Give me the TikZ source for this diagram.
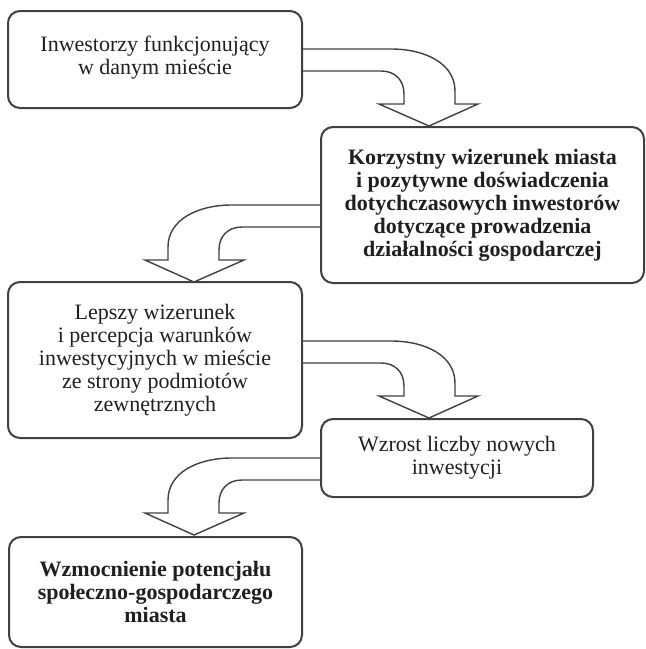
\documentclass[tikz,border=0pt]{standalone}
\usepackage{fontspec}
\setmainfont{Liberation Serif}
\usetikzlibrary{calc}
\def\bendarrow[#1](#2){\draw[blockarrow,shift={(#2)},#1] (0,0) -- (88,0) .. controls (123,0) and (152,15) .. (152,42) -- (152,55) -- (175,55) -- (126,77) -- (76,55) -- (101,55) -- (101,45) .. controls (101,31) and (92,22) .. (78,22) -- (0,22);}
\tikzset{
	box/.style={draw=black!75, line width=1pt, rounded corners=6pt, align=center, inner sep=0pt, font=\fontsize{11}{11.5}\selectfont, text=black!88},
	blockarrow/.style={draw=black!75, line width=0.7pt, line join=miter},
}
\begin{document}
\begin{tikzpicture}[x=0.5pt, y=-0.5pt]
			%%%%% START %%%%%
			\useasboundingbox (0,0) rectangle (646,649);
			
			\node[box, minimum width=147pt, minimum height=48.5pt] (inv) at (155,59.5) {Inwestorzy funkcjonujący\\w danym mieście\\[-7pt]\mbox{}};
			\node[box, minimum width=161.5pt, minimum height=78pt] (image) at (482.5,205) {\bfseries Korzystny wizerunek miasta\\\bfseries i pozytywne doświadczenia\\\bfseries dotychczasowych inwestorów\\\bfseries dotyczące prowadzenia\\\bfseries działalności gospodarczej};
			\node[box, minimum width=147pt, minimum height=78pt] (percep) at (155,360) {Lepszy wizerunek\\i percepcja warunków\\inwestycyjnych w mieście\\ze strony podmiotów\\zewnętrznych};
			\node[box, minimum width=136pt, minimum height=39pt] (growth) at (457,458) {Wzrost liczby nowych\\inwestycji};
			\node[box, minimum width=146.5pt, minimum height=55pt] (potential) at (155.5,592) {\bfseries Wzmocnienie potencjału\\\bfseries społeczno-gospodarczego\\\bfseries miasta};
			
			\coordinate (a1) at ($(inv.north east)+(0,39)$);
			\coordinate (a3) at ($(percep.north east)+(0,60)$);
			
			\bendarrow[](a1)
			\bendarrow[xscale=-1](image.west)
			\bendarrow[](a3)
			\bendarrow[xscale=-1](growth.west)
			
			%%%%% END %%%%%
\end{tikzpicture}
\end{document}
